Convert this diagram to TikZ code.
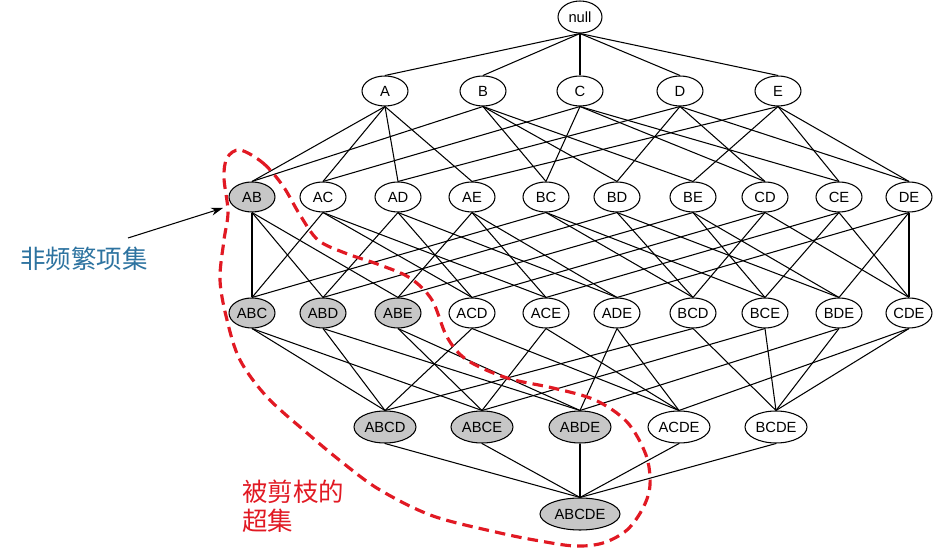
\documentclass[tikz,border=0pt]{standalone}
\usepackage{fontspec}
\setmainfont{Liberation Sans}
\newfontfamily\cjk{Noto Sans CJK SC}
\usepackage{xcolor}
\usepackage{tikz}
\usetikzlibrary{
    shapes.geometric,
    arrows.meta,
}
\definecolor{noteblue}{RGB}{45,115,160}
\definecolor{notered}{RGB}{225,25,35}
\tikzset{
    % Lattice node styles
    itemset/.style={ellipse, draw, line width=0.6pt, minimum width=0.92cm,
                    minimum height=0.6cm, inner sep=0pt, fill=white,
                    font=\fontsize{8.4}{10}\selectfont},
    pruned/.style={itemset, fill=black!22},
    wide/.style={minimum width=1.24cm, minimum height=0.64cm},
    % Line styles
    link/.style={line width=0.6pt},
    pointer/.style={-{Stealth[length=2.4mm, width=1.6mm]}, line width=0.6pt},
    border/.style={notered, line width=1.8pt, dash pattern=on 6pt off 3.5pt},
    % Annotation styles
    note/.style={font=\cjk\fontsize{14.5}{16.5}\selectfont, align=left, inner sep=0pt},
}

\begin{document}
\begin{tikzpicture}[x=0.02cm, y=-0.02cm]
    \useasboundingbox (0,0) rectangle (934,553);

    % Empty set
    \node[itemset, minimum width=0.88cm, minimum height=0.64cm] (null) at (580,17) {null};

    % 1-itemsets
    \foreach \x/\t in {385/A, 483/B, 580/C, 680/D, 778/E} {
        \node[itemset] (\t) at (\x, 91) {\t};
    }

    % 2-itemsets
    \foreach \x/\t/\s in {252/AB/pruned, 323/AC/itemset, 398/AD/itemset, 472/AE/itemset,
                          546/BC/itemset, 617/BD/itemset, 693/BE/itemset, 765/CD/itemset,
                          839/CE/itemset, 909/DE/itemset} {
        \node[\s] (\t) at (\x, 197) {\t};
    }

    % 3-itemsets
    \foreach \x/\t/\s in {252/ABC/pruned, 323/ABD/pruned, 398/ABE/pruned, 472/ACD/itemset,
                          546/ACE/itemset, 617/ADE/itemset, 693/BCD/itemset, 765/BCE/itemset,
                          839/BDE/itemset, 909/CDE/itemset} {
        \node[\s] (\t) at (\x, 313) {\t};
    }

    % 4-itemsets
    \foreach \x/\t/\s in {385/ABCD/pruned, 482/ABCE/pruned, 580/ABDE/pruned,
                          679/ACDE/itemset, 776/BCDE/itemset} {
        \node[\s, wide] (\t) at (\x, 427) {\t};
    }

    % Full itemset
    \node[pruned, wide, minimum width=1.6cm] (ABCDE) at (580, 514) {ABCDE};

    % Lattice edges
    \foreach \u/\d in {null/A, null/B, null/C, null/D, null/E} {
        \draw[link] (\u.south) -- (\d.north);
    }
    \foreach \u/\d in {A/AB, A/AC, A/AD, A/AE, B/AB, B/BC, B/BD, B/BE,
                       C/AC, C/BC, C/CD, C/CE, D/AD, D/BD, D/CD, D/DE,
                       E/AE, E/BE, E/CE, E/DE} {
        \draw[link] (\u.south) -- (\d.north);
    }
    \foreach \u/\d in {AB/ABC, AB/ABD, AB/ABE, AC/ABC, AC/ACD, AC/ACE,
                       AD/ABD, AD/ACD, AD/ADE, AE/ABE, AE/ACE, AE/ADE,
                       BC/ABC, BC/BCD, BC/BCE, BD/ABD, BD/BCD, BD/BDE,
                       BE/ABE, BE/BCE, BE/BDE, CD/ACD, CD/BCD, CD/CDE,
                       CE/ACE, CE/BCE, CE/CDE, DE/ADE, DE/BDE, DE/CDE} {
        \draw[link] (\u.south) -- (\d.north);
    }
    \foreach \u/\d in {ABC/ABCD, ABC/ABCE, ABD/ABCD, ABD/ABDE, ABE/ABCE, ABE/ABDE,
                       ACD/ABCD, ACD/ACDE, ACE/ABCE, ACE/ACDE, ADE/ABDE, ADE/ACDE,
                       BCD/ABCD, BCD/BCDE, BCE/ABCE, BCE/BCDE, BDE/ABDE, BDE/BCDE,
                       CDE/ACDE, CDE/BCDE} {
        \draw[link] (\u.south) -- (\d.north);
    }
    \foreach \u in {ABCD, ABCE, ABDE, ACDE, BCDE} {
        \draw[link] (\u.south) -- (ABCDE.north);
    }

    % Pruned region
    \draw[border] plot[smooth cycle, tension=0.55] coordinates {
        (240,150) (263,163) (283,186) (300,215) (318,240) (345,253) (380,265)
        (410,278) (432,300) (447,337) (467,360) (507,378) (553,388) (595,400)
        (627,422) (646,455) (650,485) (643,508) (627,530) (603,543) (575,546)
        (540,541) (500,533) (433,516) (380,490) (343,463) (307,433) (267,397)
        (240,360) (227,320) (220,280) (224,240) (228,212) (224,178) (227,158)};

    % Annotations
    \node[note, text=noteblue] (infreq) at (84,259) {非频繁项集};
    \coordinate (tail) at (128,238);
    \coordinate (tip) at (223,208);
    \draw[pointer] (tail) -- (tip);
    \node[note, text=notered, anchor=north west] (supersets) at (242,480) {被剪枝的\\超集};
\end{tikzpicture}
\end{document}
